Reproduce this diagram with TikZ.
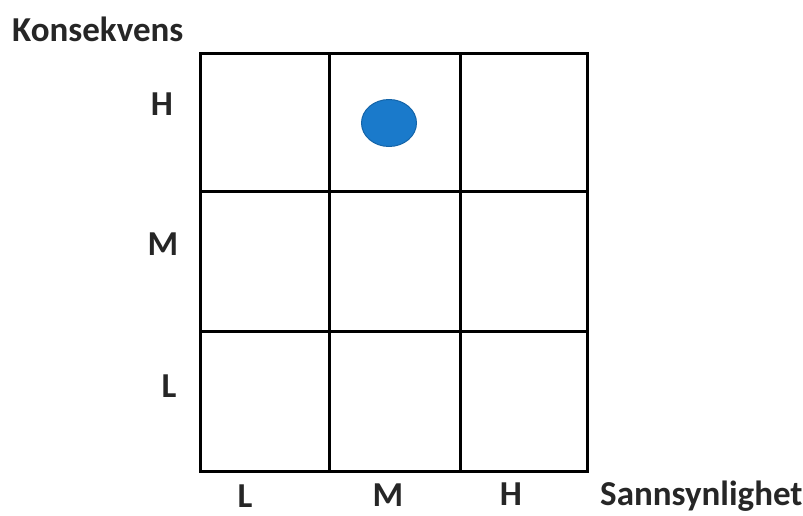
\documentclass[tikz,border=0pt]{standalone}
\usepackage{fontspec}
\setmainfont{Carlito}
\usetikzlibrary{shapes.geometric}
\definecolor{dotblue}{HTML}{1A7ACB}
\definecolor{dotedge}{HTML}{1464A8}
\begin{document}
\begin{tikzpicture}[x=1pt,y=-1pt,
  gridline/.style={line width=3pt,black},
  lbl/.style={font=\fontsize{35}{38}\selectfont\bfseries,inner sep=0pt,text=black!85}]
\useasboundingbox (0,0) rectangle (803,515);
\coordinate (tl) at (200,53);
\coordinate (br) at (587,471);
\draw[gridline] (tl) rectangle (br);
\draw[gridline] (329,53) -- (329,471);
\draw[gridline] (460,53) -- (460,471);
\draw[gridline] (200,191) -- (587,191);
\draw[gridline] (200,331) -- (587,331);
\node[lbl,anchor=base west] (kons) at (12,41) {Konsekvens};
\node[lbl,anchor=base] (yh) at (162,115) {H};
\node[lbl,anchor=base] (ym) at (163,255) {M};
\node[lbl,anchor=base] (yl) at (169,397) {L};
\node[lbl,anchor=base] (xl) at (245,507) {L};
\node[lbl,anchor=base] (xm) at (388,506) {M};
\node[lbl,anchor=base] (xh) at (511,505) {H};
\node[lbl,anchor=base west] (sann) at (600,505) {Sannsynlighet};
\node[ellipse,draw=dotedge,fill=dotblue,line width=1pt,minimum width=55pt,minimum height=47pt,inner sep=0pt] (dot) at (389,123) {};
\end{tikzpicture}
\end{document}
